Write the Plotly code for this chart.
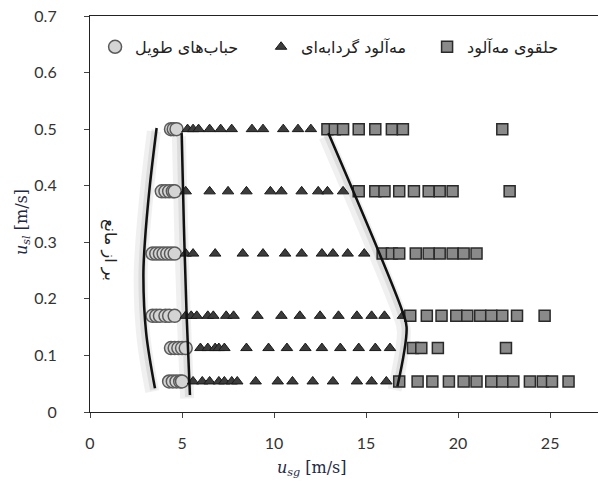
import plotly.graph_objects as go

# ---- data ----
row_y = [0.5, 0.39, 0.28, 0.17, 0.113, 0.054]

circle_x = [
    [4.4, 4.55, 4.7],
    [3.9, 4.1, 4.3, 4.5, 4.6],
    [3.4, 3.6, 3.8, 4.0, 4.2, 4.4, 4.6],
    [3.4, 3.6, 3.8, 4.1, 4.3, 4.6],
    [4.4, 4.6, 4.8, 5.0, 5.2],
    [4.3, 4.5, 4.7, 4.9, 5.0],
]
triangle_x = [
    [5.3, 5.6, 5.9, 6.5, 7.1, 7.7, 8.8, 9.4, 10.5, 11.3, 12.0],
    [5.2, 6.5, 7.5, 8.5, 9.8, 10.4, 11.5, 12.4, 12.9, 13.75],
    [5.2, 5.6, 6.8, 8.3, 9.4, 10.6, 11.5, 12.6, 13.2, 14.0, 14.9],
    [5.2, 5.5, 5.8, 6.4, 6.7, 7.4, 7.8, 9.1, 10.4, 11.4, 12.5, 13.5, 14.5, 15.3, 16.0, 17.0],
    [6.0, 6.4, 6.8, 7.0, 7.3, 8.5, 9.7, 10.7, 11.7, 12.6, 13.6, 14.6, 15.5, 16.3],
    [5.6, 6.1, 6.5, 7.0, 7.3, 7.7, 8.0, 9.0, 10.2, 11.0, 12.1, 13.2, 14.5, 15.3, 16.1],
]
square_x = [
    [12.9, 13.3, 13.75, 14.6, 15.5, 16.4, 17.0, 22.4],
    [14.6, 15.5, 16.0, 16.8, 17.6, 18.4, 19.0, 19.7, 22.8],
    [15.9, 16.4, 16.8, 17.7, 18.4, 19.0, 19.7, 20.3, 21.0],
    [17.4, 18.3, 19.1, 19.9, 20.5, 21.2, 21.8, 22.4, 23.2, 24.7],
    [17.55, 18.0, 18.9, 22.6],
    [16.8, 17.8, 18.6, 19.5, 20.3, 21.0, 21.8, 22.4, 23.0, 23.9, 24.6, 25.1, 26.0],
]

series_names = ["حباب\u200cهای طویل", "مه\u200cآلود گردابه\u200cای", "حلقوی مه\u200cآلود"]

# boundary curves (hand-drawn regime boundaries)
arc_left_x = [3.62, 3.25, 2.98, 2.9, 3.05, 3.53]
arc_left_y = [0.502, 0.40, 0.30, 0.24, 0.14, 0.042]
line_mid_x = [4.98, 5.1, 5.25, 5.43]
line_mid_y = [0.493, 0.33, 0.17, 0.03]
line_right_x = [12.95, 16.95, 17.2, 16.7]
line_right_y = [0.493, 0.18, 0.15, 0.045]

region_label = "بر از مانع"

x_ticks = [0, 5, 10, 15, 20, 25]
y_ticks = [0, 0.1, 0.2, 0.3, 0.4, 0.5, 0.6, 0.7]


def flatten(xs):
    px, py = [], []
    for yv, row in zip(row_y, xs):
        px += row
        py += [yv] * len(row)
    return px, py


fig = go.Figure()

# soft shadows for curves
for cx, cy in [(arc_left_x, arc_left_y), (line_mid_x, line_mid_y), (line_right_x, line_right_y)]:
    fig.add_trace(go.Scatter(x=[v - 0.15 for v in cx], y=[v - 0.006 for v in cy], mode="lines",
                             line=dict(color="rgba(0,0,0,0.06)", width=14, shape="spline"),
                             showlegend=False, hoverinfo="skip"))
    fig.add_trace(go.Scatter(x=[v - 0.08 for v in cx], y=[v - 0.003 for v in cy], mode="lines",
                             line=dict(color="rgba(0,0,0,0.08)", width=7, shape="spline"),
                             showlegend=False, hoverinfo="skip"))

cx, cy = flatten(circle_x)
fig.add_trace(go.Scatter(x=cx, y=cy, mode="markers", name=series_names[0],
                         marker=dict(symbol="circle", size=13, color="#d4d4d4",
                                     line=dict(color="#5a5a5a", width=1.5))))
tx, ty = flatten(triangle_x)
fig.add_trace(go.Scatter(x=tx, y=ty, mode="markers", name=series_names[1],
                         marker=dict(symbol="triangle-up", size=10, color="#3c3c3c",
                                     line=dict(color="#1a1a1a", width=1))))
sx, sy = flatten(square_x)
fig.add_trace(go.Scatter(x=sx, y=sy, mode="markers", name=series_names[2],
                         marker=dict(symbol="square", size=11, color="#8a8a8a",
                                     line=dict(color="#2a2a2a", width=1.5))))

for cx2, cy2 in [(arc_left_x, arc_left_y), (line_mid_x, line_mid_y), (line_right_x, line_right_y)]:
    fig.add_trace(go.Scatter(x=cx2, y=cy2, mode="lines",
                             line=dict(color="#111111", width=2.5, shape="spline"),
                             showlegend=False, hoverinfo="skip"))

fig.add_annotation(x=1.1, y=0.286, text=region_label, textangle=90, showarrow=False,
                   font=dict(family="DejaVu Sans", size=16, color="#222"))

# axis titles
fig.add_annotation(xref="paper", yref="paper", x=(312 - 90) / 508, y=-(468 - 412) / 396,
                   xanchor="center", yanchor="middle",
                   text="<i>u</i><sub><i>sg</i></sub> [m/s]", showarrow=False,
                   font=dict(family="DejaVu Serif", size=16, color="#1f2a44"))
fig.add_annotation(xref="paper", yref="paper", x=-(90 - 22) / 508, y=(412 - 222) / 396,
                   xanchor="center", yanchor="middle",
                   text="<i>u</i><sub><i>sl</i></sub> [m/s]", showarrow=False, textangle=-90,
                   font=dict(family="DejaVu Serif", size=16, color="#1f2a44"))

fig.update_layout(
    width=598, height=493,
    margin=dict(l=90, r=0, t=16, b=81),
    paper_bgcolor="white", plot_bgcolor="white",
    font=dict(family="Lato", size=16, color="#333"),
    legend=dict(orientation="h", x=0.01, y=0.965, xanchor="left", yanchor="top",
                font=dict(family="DejaVu Sans", size=16, color="#222"),
                bgcolor="rgba(0,0,0,0)", itemwidth=30,
                entrywidth=121, entrywidthmode="pixels"),
    xaxis=dict(range=[0, 27.6], tickvals=x_ticks, ticks="outside", ticklen=5,
               showline=True, linecolor="#222", linewidth=1.2, mirror=True,
               showgrid=False, zeroline=False, ticklabelstandoff=12,
               tickfont=dict(family="Lato", size=16, color="#333")),
    yaxis=dict(range=[0, 0.7], tickvals=y_ticks, ticktext=[str(v) for v in y_ticks],
               ticks="outside", ticklen=5,
               showline=True, linecolor="#222", linewidth=1.2,
               showgrid=False, zeroline=False, ticklabelstandoff=24,
               tickfont=dict(family="Lato", size=16, color="#333")),
)

fig.write_html("out.html")
